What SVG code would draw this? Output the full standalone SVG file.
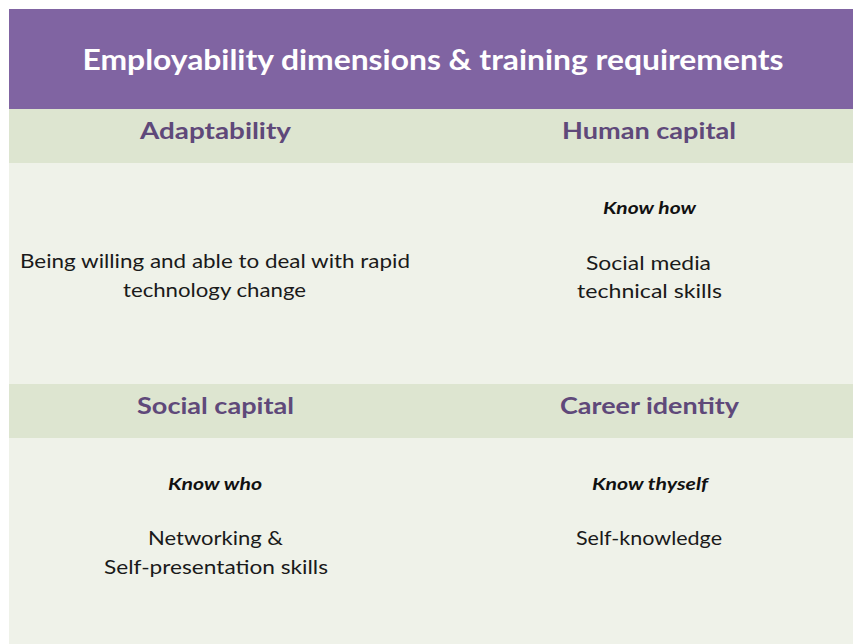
<svg xmlns="http://www.w3.org/2000/svg" width="853" height="644" viewBox="0 0 853 644">
<style>
text{font-family:Lato,"Open Sans","Liberation Sans",sans-serif;text-anchor:middle}
.title{font-size:28px;font-weight:bold;fill:#ffffff}
.hd{font-size:22px;font-weight:bold;fill:#5F497A}
.kn{font-size:17px;font-weight:bold;font-style:italic;fill:#111111}
.bd{font-size:19px;fill:#1a1a1a}
</style>
<rect x="0" y="0" width="853" height="644" fill="#ffffff"/>
<g id="title">
<rect x="9" y="9" width="844" height="100" fill="#8064A2"/>
<text class="title" x="433" y="70" textLength="701" lengthAdjust="spacingAndGlyphs">Employability dimensions &amp; training requirements</text>
</g>
<g id="row1">
<rect x="9" y="109" width="844" height="54" fill="#DDE5D0"/>
<rect x="9" y="163" width="844" height="221" fill="#EFF2E9"/>
</g>
<g id="row2">
<rect x="9" y="384" width="844" height="54" fill="#DDE5D0"/>
<rect x="9" y="438" width="844" height="206" fill="#EFF2E9"/>
</g>
<g id="adaptability">
<text class="hd" x="215.5" y="139" textLength="151" lengthAdjust="spacingAndGlyphs">Adaptability</text>
<text class="bd" x="215" y="268" textLength="390" lengthAdjust="spacingAndGlyphs">Being willing and able to deal with  rapid</text>
<text class="bd" x="214.5" y="297" textLength="183" lengthAdjust="spacingAndGlyphs">technology change</text>
</g>
<g id="human-capital">
<text class="hd" x="649" y="139" textLength="174" lengthAdjust="spacingAndGlyphs">Human capital</text>
<text class="kn" x="649.5" y="214" textLength="93" lengthAdjust="spacingAndGlyphs">Know how</text>
<text class="bd" x="648.5" y="270" textLength="125" lengthAdjust="spacingAndGlyphs">Social media</text>
<text class="bd" x="649.5" y="298" textLength="145" lengthAdjust="spacingAndGlyphs">technical skills</text>
</g>
<g id="social-capital">
<text class="hd" x="215.5" y="414" textLength="157" lengthAdjust="spacingAndGlyphs">Social capital</text>
<text class="kn" x="215" y="490" textLength="94" lengthAdjust="spacingAndGlyphs">Know who</text>
<text class="bd" x="215.5" y="545" textLength="135" lengthAdjust="spacingAndGlyphs">Networking &amp;</text>
<text class="bd" x="216" y="574" textLength="224" lengthAdjust="spacingAndGlyphs">Self-presentation skills</text>
</g>
<g id="career-identity">
<text class="hd" x="649.5" y="414" textLength="179" lengthAdjust="spacingAndGlyphs">Career identity</text>
<text class="kn" x="650" y="490" textLength="116" lengthAdjust="spacingAndGlyphs">Know thyself</text>
<text class="bd" x="649" y="545" textLength="146" lengthAdjust="spacingAndGlyphs">Self-knowledge</text>
</g>
<g id="connectors"></g>
</svg>
